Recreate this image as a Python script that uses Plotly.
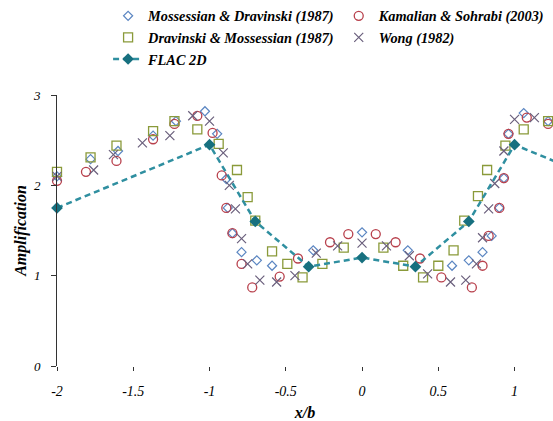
import plotly.graph_objects as go

# Mossessian & Dravinski (1987)
md_x = [-2.0, -1.78, -1.60, -1.37, -1.22, -1.03, -0.95, -0.89, -0.88, -0.85, -0.79, -0.69, -0.59,
        -0.32, 0.0, 0.30, 0.59, 0.70, 0.79, 0.85, 0.90, 0.93, 0.96, 1.06, 1.22]
md_y = [2.10, 2.29, 2.38, 2.55, 2.71, 2.82, 2.57, 2.07, 1.75, 1.47, 1.26, 1.17, 1.11,
        1.28, 1.48, 1.28, 1.11, 1.17, 1.26, 1.44, 1.75, 2.08, 2.57, 2.80, 2.71]

# Kamalian & Sohrabi (2003)
ks_x = [-2.0, -1.81, -1.61, -1.37, -1.23, -1.08, -0.98, -0.92, -0.89, -0.85, -0.79, -0.72, -0.54,
        -0.42, -0.21, -0.09, 0.09, 0.22, 0.38, 0.52, 0.72, 0.79, 0.83, 0.90, 0.93, 0.96, 1.08, 1.22]
ks_y = [2.05, 2.15, 2.27, 2.51, 2.68, 2.77, 2.58, 2.11, 1.75, 1.47, 1.13, 0.87, 0.99,
        1.19, 1.37, 1.46, 1.46, 1.37, 1.19, 0.98, 0.87, 1.11, 1.44, 1.75, 2.08, 2.57, 2.75, 2.68]

# Dravinski & Mossessian (1987)
dm_x = [-2.0, -1.78, -1.61, -1.37, -1.23, -1.08, -0.94, -0.82, -0.75, -0.70, -0.59, -0.49, -0.39,
        -0.26, -0.12, 0.14, 0.27, 0.40, 0.50, 0.60, 0.67, 0.76, 0.82, 0.94, 1.06, 1.22]
dm_y = [2.15, 2.31, 2.44, 2.60, 2.71, 2.62, 2.46, 2.17, 1.87, 1.61, 1.27, 1.13, 0.98,
        1.13, 1.31, 1.31, 1.11, 0.98, 1.11, 1.28, 1.61, 1.88, 2.17, 2.44, 2.62, 2.71]

# Wong (1982)
wg_x = [-2.0, -1.76, -1.63, -1.44, -1.26, -1.11, -1.0, -0.91, -0.87, -0.83, -0.79, -0.75, -0.67,
        -0.56, -0.44, -0.30, -0.16, 0.0, 0.16, 0.31, 0.43, 0.58, 0.68, 0.75, 0.79, 0.83, 0.87,
        0.93, 1.0, 1.13]
wg_y = [2.10, 2.17, 2.34, 2.47, 2.55, 2.77, 2.71, 2.36, 2.00, 1.74, 1.41, 1.13, 0.95,
        0.93, 1.00, 1.25, 1.33, 1.36, 1.33, 1.22, 1.02, 0.93, 0.95, 1.13, 1.42, 1.74, 2.02,
        2.38, 2.73, 2.75]

# FLAC 2D
flac_x = [-2.0, -1.0, -0.7, -0.35, 0.0, 0.35, 0.7, 1.0, 2.0]
flac_y = [1.75, 2.45, 1.60, 1.10, 1.20, 1.10, 1.60, 2.45, 1.75]

x_ticks = [-2, -1.5, -1, -0.5, 0, 0.5, 1]
x_tick_text = ["-2", "-1.5", "-1", "-0.5", "0", "0.5", "1"]
y_ticks = [0, 1, 2, 3]
y_tick_text = ["0", "1", "2", "3"]

SERIF = "Liberation Serif, Times New Roman, serif"
LEGEND_FONT = dict(family=SERIF, size=14.3, style="italic", weight="bold")

fig = go.Figure()

# left legend column: Mossessian, Dravinski, FLAC 2D; right column: Kamalian, Wong
fig.add_trace(go.Scatter(
    x=md_x, y=md_y, mode="markers", name="Mossessian & Dravinski (1987)", legend="legend",
    marker=dict(symbol="diamond-open", size=7, color="#5b86c2", line=dict(width=1.2)),
    cliponaxis=False))
fig.add_trace(go.Scatter(
    x=ks_x, y=ks_y, mode="markers", name="Kamalian & Sohrabi (2003)", legend="legend2",
    marker=dict(symbol="circle-open", size=9, color="#b8404c", line=dict(width=1.3)),
    cliponaxis=False))
fig.add_trace(go.Scatter(
    x=dm_x, y=dm_y, mode="markers", name="Dravinski & Mossessian (1987)", legend="legend",
    marker=dict(symbol="square-open", size=9, color="#8a9a3a", line=dict(width=1.3)),
    cliponaxis=False))
fig.add_trace(go.Scatter(
    x=wg_x, y=wg_y, mode="markers", name="Wong (1982)", legend="legend2",
    marker=dict(symbol="x-thin-open", size=9, color="#6a5f7c", line=dict(width=1.2)),
    cliponaxis=False))
fig.add_trace(go.Scatter(
    x=flac_x, y=flac_y, mode="lines+markers", name="FLAC 2D", legend="legend",
    line=dict(color="#2f8fa0", width=2.5, dash="6px,4px"),
    marker=dict(symbol="diamond", size=9, color="#17707f"),
    cliponaxis=False))

fig.update_layout(
    width=553, height=421,
    margin=dict(l=57, r=0, t=94, b=55),
    paper_bgcolor="white", plot_bgcolor="white",
    font=dict(family=SERIF, color="black"),
    showlegend=True,
    legend=dict(
        orientation="v", x=0.103, xanchor="left", y=1.35, yanchor="top",
        font=LEGEND_FONT, bgcolor="rgba(0,0,0,0)", itemclick=False, tracegroupgap=0,
    ),
    legend2=dict(
        orientation="v", x=0.568, xanchor="left", y=1.35, yanchor="top",
        font=LEGEND_FONT, bgcolor="rgba(0,0,0,0)", itemclick=False, tracegroupgap=0,
    ),
    xaxis=dict(
        range=[-2, 1.252], showgrid=False, zeroline=False, showline=False,
        ticks="outside", ticklen=4, tickcolor="#333333",
        tickvals=x_ticks, ticktext=x_tick_text, ticklabelstandoff=8,
        tickfont=dict(family=SERIF, size=14, style="italic"),
        title=dict(text="x/b", standoff=12,
                   font=dict(family=SERIF, size=16, style="italic", weight="bold")),
    ),
    yaxis=dict(
        range=[0, 3], showgrid=False, zeroline=False, showline=True,
        linecolor="#333333", linewidth=1,
        ticks="outside", ticklen=5, tickcolor="#333333",
        tickvals=y_ticks, ticktext=y_tick_text, ticklabelstandoff=8,
        tickfont=dict(family=SERIF, size=13, style="italic"),
        title=dict(text="Amplification", standoff=2,
                   font=dict(family=SERIF, size=16, style="italic", weight="bold")),
    ),
)

fig.write_html("out.html")
